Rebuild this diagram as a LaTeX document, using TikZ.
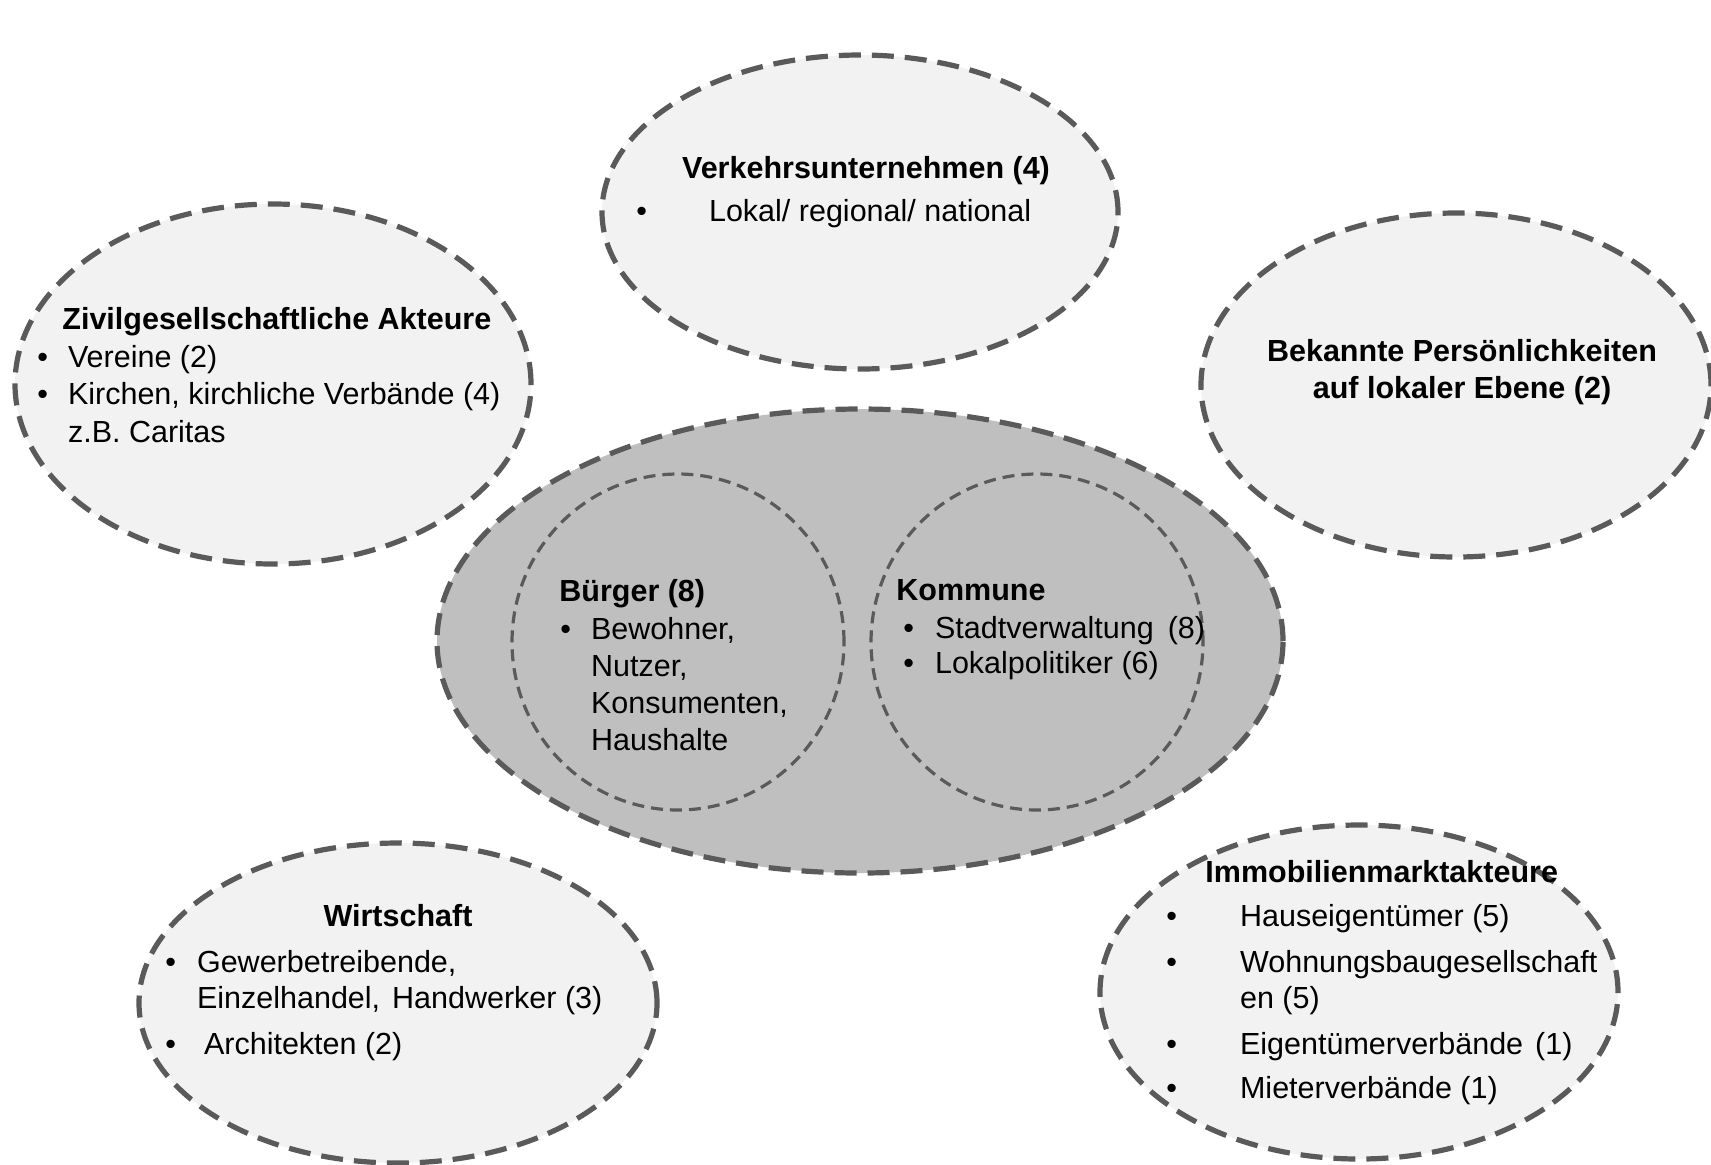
\documentclass[tikz,border=0pt]{standalone}
\usepackage{fontspec}
\setmainfont{Liberation Sans}
\usepackage{xcolor}
\usepackage{tikz}
\usetikzlibrary{shapes, positioning}

\definecolor{dashgray}{HTML}{5A5A5A}
\definecolor{lightfill}{HTML}{F2F2F2}
\definecolor{midfill}{HTML}{BFBFBF}

\tikzset{
	blob/.style={ellipse, draw=dashgray, fill=lightfill, line width=2.6pt, dash pattern=on 11pt off 5.5pt, inner sep=0pt},
	innerblob/.style={ellipse, draw=dashgray, line width=1.6pt, dash pattern=on 6pt off 3.5pt, inner sep=0pt},
	txt/.style={inner sep=0pt, font=\fontsize{15.25}{18.5}\selectfont},
	headline/.style={inner sep=0pt, font=\fontsize{15.25}{18.5}\selectfont\bfseries}
}

\newcommand{\blist}[2]{\begin{tabular}[t]{@{}l@{\hspace{#1}}l@{}}#2\end{tabular}}

\begin{document}
\begin{tikzpicture}[x=0.5pt, y=-0.5pt]
	
	%//pixel grid, (0,0) top left
	\useasboundingbox (0,0) rectangle (1711,1164);
	
	\foreach \nm/\cx/\cy/\rx/\ry in {verkehr/860/212/258/157, zivil/273/384/258/180, bekannt/1456/385/255/172, wirtschaft/398/1003/259/160, immo/1359/992/259/167}
	\node [blob, minimum width=\rx pt, minimum height=\ry pt] (\nm) at (\cx,\cy) {};
	
	%//centre
	\node [blob, fill=midfill, minimum width=423pt, minimum height=232pt] (zentrum) at (860,641) {};
	\node [innerblob, minimum width=166pt, minimum height=168pt] (buerger) at (678,642) {};
	\node [innerblob, minimum width=166pt, minimum height=168pt] (kommune) at (1037,642) {};
	
	\node [headline, anchor=base] (verkehr-t) at (866,178) {Verkehrsunternehmen (4)};
	\node [txt, anchor=base west] (verkehr-l) at (636,221) {\blist{31pt}{\textbullet & Lokal/ regional/ national}};
	
	\node [headline, anchor=base west] (zivil-t) at (62,329) {Zivilgesellschaftliche Akteure};
	\node [txt, anchor=base west] (zivil-l) at (37,367) {\blist{10pt}{\textbullet & Vereine (2)\\ \textbullet & Kirchen, kirchliche Verbände (4)\\[0.5pt] & z.B. Caritas}};
	
	\node [headline, anchor=base] (bekannt-t) at (1462,361) {\begin{tabular}[t]{@{}c@{}}Bekannte Persönlichkeiten\\ auf lokaler Ebene (2)\end{tabular}};
	
	\node [headline, anchor=base west] (buerger-t) at (559,601) {Bürger (8)};
	\node [txt, anchor=base west] (buerger-l) at (560,639) {\blist{10pt}{\textbullet & Bewohner,\\ & Nutzer,\\ & Konsumenten,\\ & Haushalte}};
	
	\node [headline, anchor=base west] (kommune-t) at (896,600) {Kommune};
	\node [txt, anchor=base west] (kommune-l) at (903,638) {\blist{10.5pt}{\textbullet & Stadtverwaltung\hspace{7pt}(8)\\[-1pt] \textbullet & Lokalpolitiker (6)}};
	
	\node [headline, anchor=base] (wirtschaft-t) at (398,926) {Wirtschaft};
	\node [txt, anchor=base west] (wirtschaft-l) at (165,972) {\blist{10.5pt}{\textbullet & Gewerbetreibende,\\[-0.5pt] & Einzelhandel,\hspace{6pt}Handwerker (3)\\[4.5pt] \textbullet & \hspace{3.5pt}Architekten (2)}};
	
	\node [headline, anchor=base west] (immo-t) at (1205,882) {Immobilienmarktakteure};
	\node [txt, anchor=base west] (immo-l) at (1166,926) {\blist{31.5pt}{\textbullet & Hauseigentümer (5)\\[4.5pt] \textbullet & Wohnungsbaugesellschaft\\[-0.5pt] & en (5)\\[4.5pt] \textbullet & Eigentümerverbände\hspace{6pt}(1)\\[3.5pt] \textbullet & Mieterverbände (1)}};
	
\end{tikzpicture}
\end{document}
